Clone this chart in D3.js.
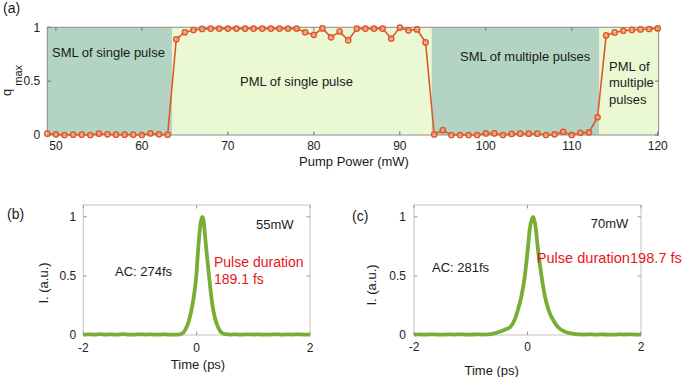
<!DOCTYPE html>
<html>
<head>
<meta charset="utf-8">
<script src="https://cdn.jsdelivr.net/npm/d3@7"></script>
<style>
  body { margin: 0; background: #fff; }
  svg { display: block; font-family: "Liberation Sans", Arial, sans-serif; }
  .tick-label { font-size: 12px; fill: #222; }
</style>
</head>
<body>
<div id="chart"></div>
<script>
// ---- panel (a): q_max vs pump power ----
const pumpPower = [
  49, 50, 51, 52, 53, 54, 55, 56, 57, 58, 59, 60, 61, 62, 63,
  64, 65, 66, 67, 68, 69, 70, 71, 72, 73, 74, 75, 76, 77, 78,
  79, 80, 81, 82, 83, 84, 85, 86, 87, 88, 89, 90, 91, 92, 93,
  94, 95, 96, 97, 98, 99, 100, 101, 102, 103, 104, 105, 106, 107,
  108, 109, 110, 111, 112, 113, 114, 115, 116, 117, 118, 119, 120
];
const qMax = [
  0.012, 0.006, 0, 0.003, 0.003, 0, 0.012, 0.006, 0.003, 0.003, 0.003, 0, 0.015, 0.006, 0.003,
  0.889, 0.954, 0.975, 0.985, 0.988, 0.988, 0.988, 0.988, 0.988, 0.988, 0.988, 0.988, 0.988, 0.988, 0.988,
  0.954, 0.93, 0.99, 0.907, 0.96, 0.88, 0.988, 0.988, 0.988, 0.988, 0.895, 0.997, 0.972, 0.98, 0.86,
  0.005, 0.045, 0, 0, 0, 0, 0.015, 0.015, 0, 0.01, 0.012, 0.012, 0.012, 0,
  0.006, 0.03, 0, 0.02, 0.025, 0.165, 0.925, 0.952, 0.968, 0.976, 0.98, 0.984, 0.99
];

// mode-locking regimes (pump power ranges)
const regimeStart = [49, 63.5, 93.7, 113.2];
const regimeEnd = [63.5, 93.7, 113.2, 120.1];
const regimeKind = ['SML', 'PML', 'SML', 'PML'];
const regimeLabel = [
  ['SML of single pulse'],
  ['PML of single pulse'],
  ['SML of multiple pulses'],
  ['PML of', 'multiple', 'pulses']
];

const powerTicks = [50, 60, 70, 80, 90, 100, 110, 120];
const unitTicks = [0, 0.5, 1];

// ---- panels (b) and (c): autocorrelation traces ----
const timeB = [
  -2, -1.9, -1.8, -1.7, -1.6, -1.5, -1.4, -1.3, -1.2, -1.1, -1.0, -0.9, -0.8, -0.7, -0.6, -0.5, -0.4,
  -0.3, -0.235, -0.2, -0.165, -0.12, -0.076, -0.04, -0.006, 0.02, 0.047, 0.075, 0.1,
  0.125, 0.147, 0.18, 0.218, 0.25, 0.28, 0.32, 0.365, 0.4, 0.44, 0.5,
  0.6, 0.7, 0.8, 0.9, 1.0, 1.1, 1.2, 1.3, 1.4, 1.5, 1.6, 1.7, 1.8, 1.9, 2
];
const intensityB = [
  0.004, 0.006, 0.003, 0.008, 0.004, 0.005, 0.003, 0.007, 0.004, 0.003, 0.006, 0.004, 0.005, 0.003, 0.005, 0.004, 0.004,
  0.006, 0.02, 0.045, 0.08, 0.15, 0.25, 0.36, 0.5, 0.68, 0.845, 0.96, 1.0,
  0.96, 0.845, 0.68, 0.5, 0.36, 0.25, 0.15, 0.08, 0.045, 0.02, 0.007,
  0.004, 0.005, 0.003, 0.006, 0.004, 0.005, 0.003, 0.004, 0.006, 0.003, 0.005, 0.004, 0.006, 0.003, 0.004
];

const timeC = [
  -2, -1.9, -1.8, -1.7, -1.6, -1.5, -1.4, -1.3, -1.2, -1.1, -1.0, -0.9, -0.8,
  -0.7, -0.58, -0.49, -0.4, -0.31, -0.22, -0.165, -0.106, -0.047, 0.012, 0.041, 0.1,
  0.147, 0.176, 0.247, 0.306, 0.365, 0.44, 0.54, 0.66, 0.78, 0.9,
  1.0, 1.1, 1.2, 1.3, 1.4, 1.5, 1.6, 1.7, 1.8, 1.9, 2
];
const intensityC = [
  0.004, 0.005, 0.003, 0.006, 0.004, 0.003, 0.005, 0.004, 0.006, 0.003, 0.004, 0.005, 0.004,
  0.005, 0.014, 0.028, 0.045, 0.065, 0.136, 0.22, 0.33, 0.5, 0.76, 0.9, 1.0,
  0.9, 0.76, 0.5, 0.33, 0.22, 0.136, 0.065, 0.028, 0.014, 0.005,
  0.004, 0.006, 0.003, 0.005, 0.004, 0.003, 0.005, 0.004, 0.006, 0.003, 0.004
];

const timeTicks = [-2, 0, 2];

const W = 685, H = 377;
const orange = '#e0582a';
const green = '#79ad34';
const regimeFill = { SML: '#b3d4c2', PML: '#eaf8d3' };

const svg = d3.select('#chart')
  .append('svg')
  .attr('width', W)
  .attr('height', H);

// ======================= panel (a) =======================
const a = { left: 47.3, right: 658.6, top: 27.3, bottom: 135 };
const xA = d3.scaleLinear().domain([49, 120.1]).range([a.left, a.right]);
const yA = d3.scaleLinear().domain([0, 1]).range([a.bottom, a.top]);

const gA = svg.append('g').attr('class', 'panel-a');

// regime backgrounds
gA.selectAll('rect.regime')
  .data(regimeKind)
  .enter()
  .append('rect')
  .attr('class', 'regime')
  .attr('x', (d, i) => xA(regimeStart[i]))
  .attr('y', a.top)
  .attr('width', (d, i) => xA(regimeEnd[i]) - xA(regimeStart[i]))
  .attr('height', a.bottom - a.top)
  .attr('fill', d => regimeFill[d]);

// regime labels (placed inside their band)
const labelPos = [
  { x: 52, y: 52 },
  { x: 240, y: 81 },
  { x: 460, y: 56 },
  { x: 609, y: 66 }
];
regimeLabel.forEach((lines, i) => {
  const t = gA.append('text')
    .attr('font-size', 13)
    .attr('fill', '#1a1a1a');
  lines.forEach((line, j) => {
    t.append('tspan')
      .attr('x', labelPos[i].x)
      .attr('y', labelPos[i].y + j * 16.5)
      .attr('dy', '0.35em')
      .text(line);
  });
});

// frame + inner ticks (MATLAB-like box)
function drawFrame(g, box, xScale, yScale, xTicks, yTicks, frameColor, tickColor) {
  g.append('rect')
    .attr('x', box.left)
    .attr('y', box.top)
    .attr('width', box.right - box.left)
    .attr('height', box.bottom - box.top)
    .attr('fill', 'none')
    .attr('stroke', frameColor)
    .attr('stroke-width', 1);

  const tl = 3.5;
  xTicks.forEach(v => {
    const x = xScale(v);
    g.append('line').attr('x1', x).attr('x2', x).attr('y1', box.bottom).attr('y2', box.bottom - tl)
      .attr('stroke', tickColor);
    g.append('line').attr('x1', x).attr('x2', x).attr('y1', box.top).attr('y2', box.top + tl)
      .attr('stroke', tickColor);
  });
  yTicks.forEach(v => {
    const y = yScale(v);
    g.append('line').attr('x1', box.left).attr('x2', box.left + tl).attr('y1', y).attr('y2', y)
      .attr('stroke', tickColor);
    g.append('line').attr('x1', box.right).attr('x2', box.right - tl).attr('y1', y).attr('y2', y)
      .attr('stroke', tickColor);
  });
}

function drawTickLabels(g, box, xScale, yScale, xTicks, yTicks, xGap, yGap) {
  g.selectAll('text.xtl')
    .data(xTicks)
    .enter()
    .append('text')
    .attr('class', 'tick-label xtl')
    .attr('x', d => xScale(d))
    .attr('y', box.bottom + xGap)
    .attr('dy', '0.35em')
    .attr('text-anchor', 'middle')
    .text(d => d);

  g.selectAll('text.ytl')
    .data(yTicks)
    .enter()
    .append('text')
    .attr('class', 'tick-label ytl')
    .attr('x', box.left - yGap)
    .attr('y', d => yScale(d))
    .attr('dy', '0.35em')
    .attr('text-anchor', 'end')
    .text(d => d);
}

drawFrame(gA, a, xA, yA, powerTicks, unitTicks, '#8c8c8c', '#6e6e6e');
drawTickLabels(gA, a, xA, yA, powerTicks, unitTicks, 11, 7);

// q_max line with open circles
const lineA = d3.line()
  .x((d, i) => xA(pumpPower[i]))
  .y(d => yA(d));

gA.append('path')
  .datum(qMax)
  .attr('d', lineA)
  .attr('fill', 'none')
  .attr('stroke', orange)
  .attr('stroke-width', 1.6);

gA.selectAll('circle.pt')
  .data(qMax)
  .enter()
  .append('circle')
  .attr('class', 'pt')
  .attr('cx', (d, i) => xA(pumpPower[i]))
  .attr('cy', d => yA(d))
  .attr('r', 2.6)
  .attr('fill', '#f3c2a8')
  .attr('fill-opacity', 0.6)
  .attr('stroke', orange)
  .attr('stroke-width', 1.5);

// axis titles
gA.append('text')
  .attr('x', 354)
  .attr('y', 161)
  .attr('dy', '0.35em')
  .attr('text-anchor', 'middle')
  .attr('font-size', 13)
  .attr('fill', '#1a1a1a')
  .text('Pump Power (mW)');

const qLabel = gA.append('text')
  .attr('transform', 'translate(11, 96) rotate(-90)')
  .attr('font-size', 13)
  .attr('fill', '#1a1a1a');
qLabel.append('tspan').text('q');
qLabel.append('tspan')
  .attr('dx', 3)
  .attr('dy', 11)
  .attr('font-size', 11)
  .text('max');

svg.append('text')
  .attr('x', 3)
  .attr('y', 8.5)
  .attr('dy', '0.35em')
  .attr('font-size', 14)
  .attr('fill', '#1a1a1a')
  .text('(a)');

// ======================= panels (b) and (c) =======================
function drawPulse(cfg) {
  const box = cfg.box;
  const x = d3.scaleLinear().domain([-2, 2]).range([box.left, box.right]);
  const y = d3.scaleLinear().domain([0, 1.1]).range([box.bottom, box.top]);
  const g = svg.append('g').attr('class', 'panel-' + cfg.tag);

  drawFrame(g, box, x, y, timeTicks, unitTicks, '#c4c4c4', '#9a9a9a');
  drawTickLabels(g, box, x, y, timeTicks, unitTicks, cfg.xGap, cfg.yGap);

  const line = d3.line()
    .x((d, i) => x(cfg.t[i]))
    .y(d => y(d))
    .curve(d3.curveMonotoneX);

  g.append('path')
    .datum(cfg.I)
    .attr('d', line)
    .attr('fill', 'none')
    .attr('stroke', green)
    .attr('stroke-width', 3.8)
    .attr('stroke-linejoin', 'round');

  // annotations
  g.append('text')
    .attr('x', cfg.tagPos[0]).attr('y', cfg.tagPos[1])
    .attr('dy', '0.35em')
    .attr('font-size', 14)
    .attr('fill', '#1a1a1a')
    .text('(' + cfg.tag + ')');

  g.append('text')
    .attr('x', cfg.powerPos[0]).attr('y', cfg.powerPos[1])
    .attr('dy', '0.35em')
    .attr('font-size', 13)
    .attr('fill', '#1a1a1a')
    .text(cfg.power);

  g.append('text')
    .attr('x', cfg.acPos[0]).attr('y', cfg.acPos[1])
    .attr('dy', '0.35em')
    .attr('font-size', 13)
    .attr('fill', '#1a1a1a')
    .text(cfg.ac);

  const red = g.append('text')
    .attr('font-size', cfg.durSize)
    .attr('fill', '#e8141c');
  cfg.duration.forEach((line, j) => {
    red.append('tspan')
      .attr('x', cfg.durPos[0])
      .attr('y', cfg.durPos[1] + j * 17.6)
      .attr('dy', '0.35em')
      .text(line);
  });

  g.append('text')
    .attr('x', cfg.xTitlePos[0]).attr('y', cfg.xTitlePos[1])
    .attr('dy', '0.35em')
    .attr('text-anchor', 'middle')
    .attr('font-size', 13)
    .attr('fill', '#1a1a1a')
    .text('Time (ps)');

  g.append('text')
    .attr('transform', `translate(${cfg.yTitlePos[0]}, ${cfg.yTitlePos[1]}) rotate(-90)`)
    .attr('dy', '0.35em')
    .attr('text-anchor', 'middle')
    .attr('font-size', 13)
    .attr('fill', '#1a1a1a')
    .text('I. (a.u.)');
}

drawPulse({
  tag: 'b',
  box: { left: 83.3, right: 310, top: 205, bottom: 335 },
  t: timeB, I: intensityB,
  xGap: 12.7, yGap: 7,
  tagPos: [7, 214],
  power: '55mW', powerPos: [256, 224],
  ac: 'AC: 274fs', acPos: [115, 271.7],
  duration: ['Pulse duration', '189.1 fs'], durPos: [214, 261.7], durSize: 14,
  xTitlePos: [198, 364.3],
  yTitlePos: [43.5, 283]
});

drawPulse({
  tag: 'c',
  box: { left: 414, right: 641, top: 205, bottom: 335 },
  t: timeC, I: intensityC,
  xGap: 11.7, yGap: 8,
  tagPos: [352, 216],
  power: '70mW', powerPos: [590.7, 223.3],
  ac: 'AC: 281fs', acPos: [432, 267.7],
  duration: ['Pulse duration198.7 fs'], durPos: [536.7, 258.3], durSize: 14.6,
  xTitlePos: [491.7, 370],
  yTitlePos: [371.7, 285]
});
</script>
</body>
</html>
